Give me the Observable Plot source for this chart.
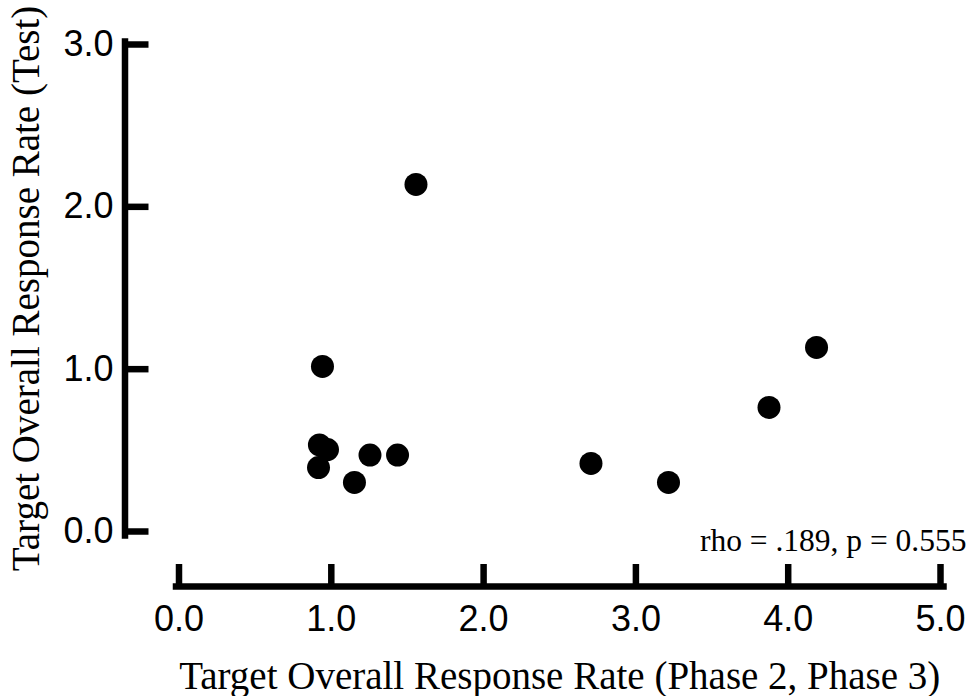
<!DOCTYPE html>
<html>
<head>
<meta charset="utf-8">
<script src="https://cdn.jsdelivr.net/npm/d3@7"></script>
<script src="https://cdn.jsdelivr.net/npm/@observablehq/plot@0.6"></script>
<style>
  html, body { margin: 0; padding: 0; background: #fff; }
  #chart svg { display: block; }
</style>
</head>
<body>
<div id="chart"></div>
<script>
// Data
const phaseRate = [1.556, 0.942, 0.922, 0.975, 0.916, 1.152, 1.254, 1.435, 2.705, 3.214, 3.874, 4.186];
const testRate  = [2.138, 1.017, 0.533, 0.505, 0.394, 0.302, 0.471, 0.471, 0.419, 0.302, 0.764, 1.134];
const xTicks = [0, 1, 2, 3, 4, 5];
const yTicks = [0, 1, 2, 3];
const xTitle = "Target Overall Response Rate (Phase 2, Phase 3)";
const yTitle = "Target Overall Response Rate (Test)";
const statText = "rho = .189, p = 0.555";

const points = phaseRate.map((x, i) => ({x, y: testRate[i]}));
const fmt = d3.format(".1f");
const blank = () => "";
const sans = "'Liberation Sans', Arial, sans-serif";
const serif = "'Liberation Serif', 'Times New Roman', serif";

const W = 976, H = 696, ML = 124.5, MR = 36, MT = 44, MB = 110;

const chart = Plot.plot({
  width: W,
  height: H,
  marginLeft: ML,
  marginRight: MR,
  marginTop: MT,
  marginBottom: MB,
  style: {background: "#fff", color: "#000", overflow: "visible"},
  x: {domain: [0, 5], insetLeft: 54},
  y: {domain: [0, 3], insetBottom: 55},
  marks: [
    // axis lines
    Plot.frame({anchor: "left", stroke: "#000", strokeWidth: 6.5, insetTop: -3, insetBottom: 51}),
    Plot.frame({anchor: "bottom", stroke: "#000", strokeWidth: 6.5, insetLeft: 51, insetRight: -3}),
    // ticks pointing inward (moved from the far frame edge onto the axis lines)
    Plot.axisY({anchor: "right", ticks: yTicks, tickSize: 23, tickFormat: blank, label: null,
      strokeWidth: 6.5, stroke: "#000", dx: -(W - MR - ML)}),
    Plot.axisX({anchor: "top", ticks: xTicks, tickSize: 23, tickFormat: blank, label: null,
      strokeWidth: 6.5, stroke: "#000", dy: H - MB - MT}),
    // tick labels
    Plot.axisY({anchor: "left", ticks: yTicks, tickFormat: fmt, tickSize: 0, tickPadding: 11.5, label: null,
      fontSize: 36, fontFamily: sans, fill: "#000"}),
    Plot.axisX({anchor: "bottom", ticks: xTicks, tickFormat: fmt, tickSize: 0, tickPadding: 19, label: null,
      fontSize: 36, fontFamily: sans, fill: "#000"}),
    // titles
    Plot.text([xTitle], {text: d => d, frameAnchor: "bottom", textAnchor: "middle", lineAnchor: "bottom", dx: 27, dy: 102,
      fontSize: 39, fontFamily: serif, fill: "#000"}),
    Plot.text([yTitle], {text: d => d, frameAnchor: "left", textAnchor: "middle", rotate: -90, lineAnchor: "bottom", dx: -86, dy: -27,
      fontSize: 39, fontFamily: serif, fill: "#000"}),
    Plot.text([statText], {text: d => d, frameAnchor: "bottom-right", textAnchor: "end", lineAnchor: "bottom",
      dx: 26, dy: -36, fontSize: 31.5, fontFamily: serif, fill: "#000"}),
    // data
    Plot.dot(points, {x: "x", y: "y", r: 11.5, fill: "#000", stroke: null})
  ]
});
document.getElementById("chart").appendChild(chart);
</script>
</body>
</html>
